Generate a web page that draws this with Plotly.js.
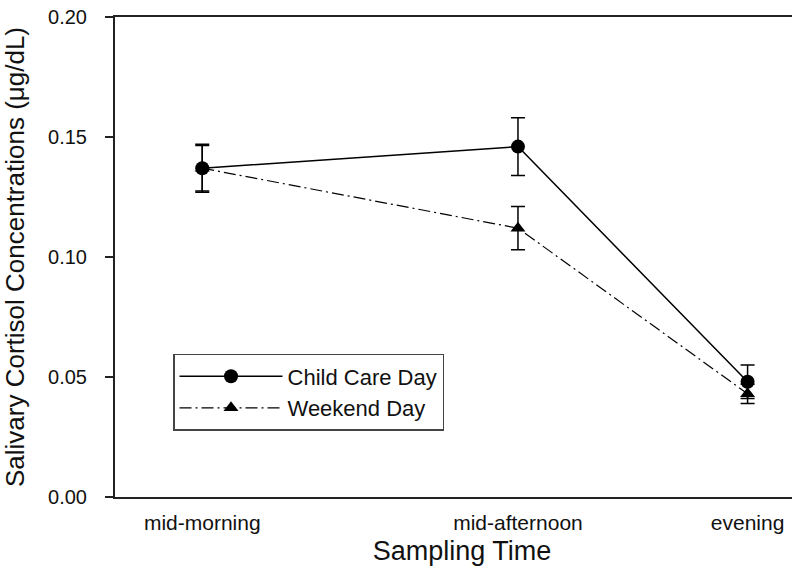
<!DOCTYPE html>
<html>
<head>
<meta charset="utf-8">
<script src="https://cdn.plot.ly/plotly-3.0.1.min.js"></script>
<style>html,body{margin:0;padding:0;background:#fff;overflow:hidden;width:792px;height:571px;}#chart{width:809px;height:571px;}</style>
</head>
<body>
<div id="chart"></div>
<script>
// Sampling times (clock hour, used for horizontal spacing) and their labels
var sampleHours = [10, 15.5, 19.5];
var sampleLabels = ['mid-morning', 'mid-afternoon', 'evening'];

// Child Care Day: mean and standard error
var childCareMean = [0.137, 0.146, 0.048];
var childCareErr  = [0.0095, 0.012, 0.007];

// Weekend Day: mean and standard error
var weekendMean = [0.137, 0.112, 0.043];
var weekendErr  = [0.010, 0.009, 0.004];

var yTicks = [0.00, 0.05, 0.10, 0.15, 0.20];
var yTickText = ['0.00', '0.05', '0.10', '0.15', '0.20'];

var FONT = 'Liberation Sans, Arial, Helvetica, sans-serif';

var traces = [
  {
    x: sampleHours, y: childCareMean, name: 'Child Care Day',
    type: 'scatter', mode: 'lines+markers',
    line: {color: '#000', width: 1.5, dash: 'solid'},
    marker: {symbol: 'circle', size: 14, color: '#000'},
    error_y: {type: 'data', array: childCareErr, visible: true, color: '#000', thickness: 1.5, width: 7},
    cliponaxis: false
  },
  {
    x: sampleHours, y: weekendMean, name: 'Weekend Day',
    type: 'scatter', mode: 'lines+markers',
    line: {color: '#000', width: 1.2, dash: '12px,4px,2px,4px'},
    marker: {symbol: 'triangle-up', size: 13, color: '#000'},
    error_y: {type: 'data', array: weekendErr, visible: true, color: '#000', thickness: 1.5, width: 7},
    cliponaxis: false
  }
];

var layout = {
  width: 809, height: 571,
  margin: {l: 115, r: 0, t: 17, b: 74, pad: 0},
  paper_bgcolor: '#fff', plot_bgcolor: '#fff',
  font: {family: FONT, color: '#111'},
  showlegend: true,
  legend: {
    x: 0.0836, y: 0.298, xanchor: 'left', yanchor: 'top',
    bgcolor: '#fff', bordercolor: '#444', borderwidth: 1.5,
    font: {family: FONT, size: 22, color: '#111'},
    itemwidth: 103, tracegroupgap: 0
  },
  xaxis: {
    range: [8.48, 20.57],
    tickmode: 'array', tickvals: sampleHours, ticktext: sampleLabels,
    ticks: '', showgrid: false, zeroline: false,
    showline: true, linecolor: '#222', linewidth: 2, mirror: true,
    tickfont: {family: FONT, size: 21, color: '#111'},
    ticklabelstandoff: 6,
    title: {text: 'Sampling Time', font: {family: FONT, size: 27, color: '#111'}, standoff: 8}
  },
  yaxis: {
    range: [0, 0.2],
    tickmode: 'array', tickvals: yTicks, ticktext: yTickText,
    ticks: 'outside', ticklen: 8, tickwidth: 1.5, tickcolor: '#222',
    showgrid: false, zeroline: false,
    showline: true, linecolor: '#222', linewidth: 2,
    tickfont: {family: FONT, size: 20, color: '#111'},
    ticklabelstandoff: 14,
    title: {text: 'Salivary Cortisol Concentrations (μg/dL)', font: {family: FONT, size: 26, color: '#111'}, standoff: 16}
  }
};

Plotly.newPlot('chart', traces, layout, {displayModeBar: false, staticPlot: true});
</script>
</body>
</html>
